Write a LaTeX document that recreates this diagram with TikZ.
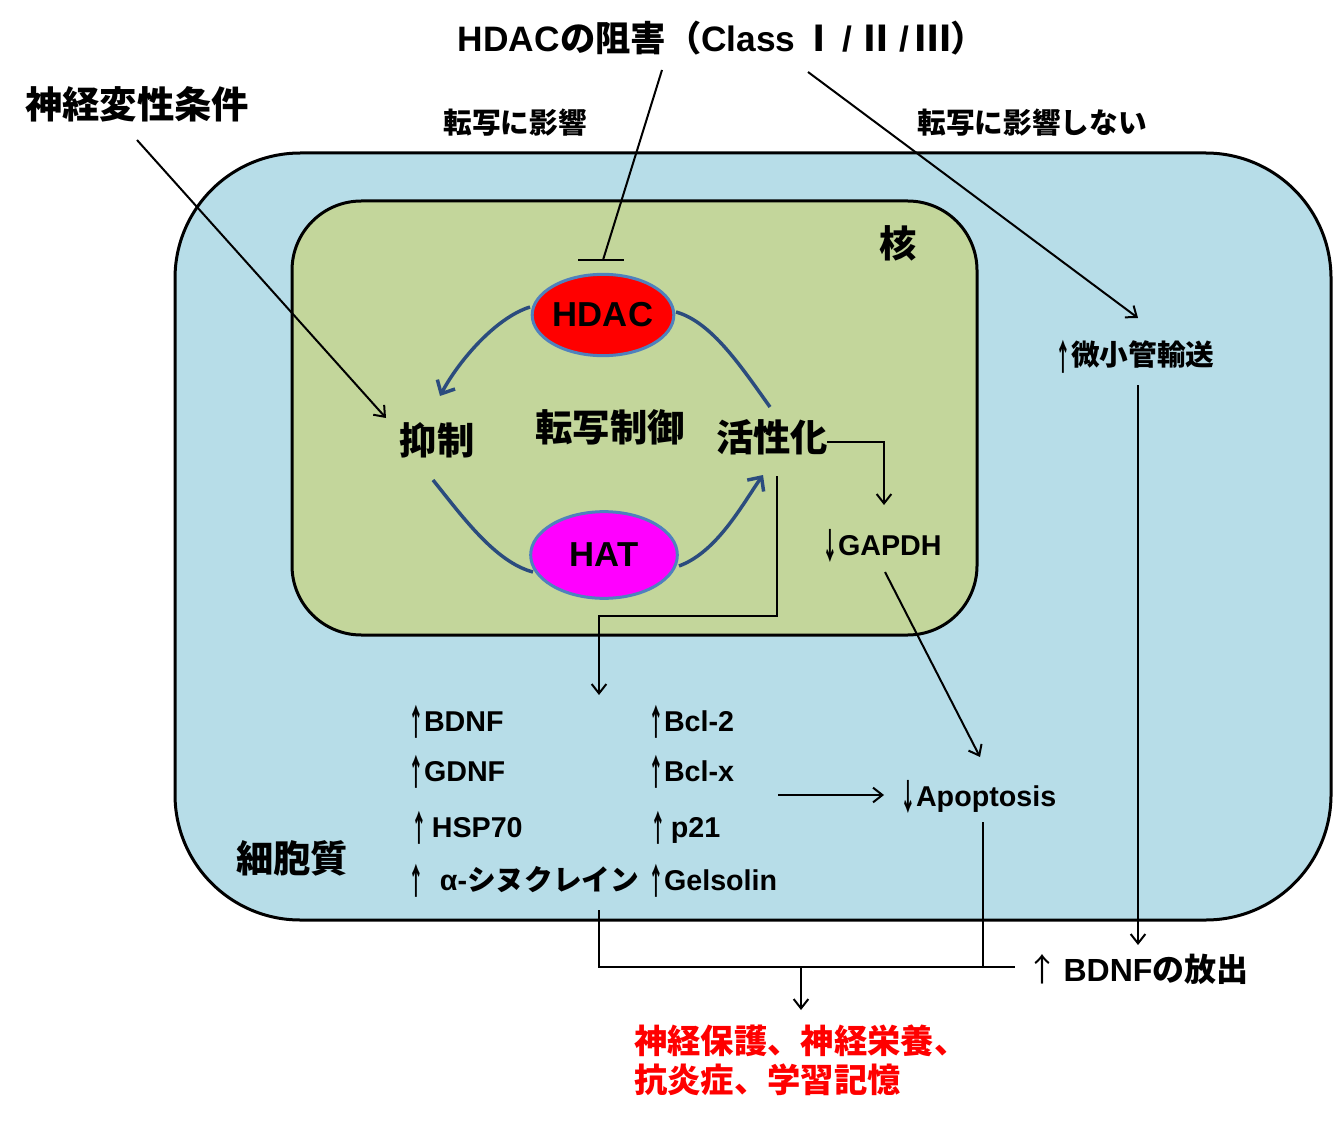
\documentclass[tikz,border=0pt]{standalone}
\usepackage{fontspec}
\usepackage{graphicx}
\setmainfont{Liberation Sans}
\newfontfamily\jp{Noto Sans CJK JP}
\usetikzlibrary{arrows.meta,shapes.geometric}
\definecolor{cellc}{HTML}{B7DDE8}
\definecolor{nucc}{HTML}{C3D69B}
\definecolor{curvec}{HTML}{2B4C7E}
\definecolor{ellb}{HTML}{4F81BD}
\definecolor{hatc}{RGB}{255,0,255}
\definecolor{hdacc}{RGB}{255,0,0}
\definecolor{redtx}{RGB}{255,0,0}
\newcommand\uparr{\raisebox{-3pt}{\scalebox{0.55}[1.25]{\jp\bfseries ↑}}}
\newcommand\dnarr{\raisebox{-3pt}{\scalebox{0.55}[1.25]{\jp\bfseries ↓}}}
\begin{document}
\begin{tikzpicture}[x=0.75pt,y=-0.75pt,
  conn/.style={line width=1.5pt, -{Straight Barb[length=7pt,width=11pt,line width=1.5pt]}},
  plain/.style={line width=1.5pt},
  bcurve/.style={line width=2.6pt, draw=curvec},
  barr/.style={bcurve, -{Straight Barb[length=8pt,width=15pt,line width=2.6pt]}},
  big/.style={font=\jp\bfseries\fontsize{28}{30}\selectfont, inner sep=0pt},
  mid/.style={font=\jp\bfseries\fontsize{21.5}{24}\selectfont, inner sep=0pt},
  lat/.style={font=\bfseries\fontsize{21.5}{24}\selectfont, inner sep=0pt},
  redt/.style={font=\jp\bfseries\fontsize{25}{27}\selectfont, inner sep=0pt, text=redtx},
  ell/.style={ellipse, draw=ellb, line width=2.25pt, inner sep=0pt,
    font=\bfseries\fontsize{26}{28}\selectfont},
]
\useasboundingbox (0,0) rectangle (1333,1126);
\fill[white] (0,0) rectangle (1333,1126);

% cell and nucleus
\draw[line width=2.25pt, fill=cellc, rounded corners=94pt] (175,153) rectangle (1331,920);
\draw[line width=2.25pt, fill=nucc, rounded corners=52pt] (292,201) rectangle (977,635);

% texts
\node[font=\bfseries\fontsize{26.5}{28}\selectfont, inner sep=0pt] (title) at (722,38)
  {HDAC{\jp の阻害（}Class\,{\jp Ⅰ}\,/\,{\jp Ⅱ}\,/\,{\jp Ⅲ）}};
\node[big] (cond) at (137,104) {神経変性条件};
\node[mid] (t1) at (515,123) {転写に影響};
\node[mid] (t2) at (1032,123) {転写に影響しない};
\node[big] (kaku) at (898,243) {核};
\node[ell, fill=hdacc, minimum width=106pt, minimum height=61pt] (hdac) at (603,315) {HDAC};
\node[ell, fill=hatc, minimum width=110pt, minimum height=65pt] (hat) at (604,555) {HAT};
\node[big] (yoku) at (437,440) {抑制};
\node[big] (tensha) at (610,427) {転写制御};
\node[big] (kassei) at (772,437) {活性化};
\node[lat, anchor=base west] (gapdh) at (822,555) {\dnarr GAPDH};
\node[mid, anchor=base west] (micro) at (1055,366) {\uparr 微小管輸送};

\node[lat, anchor=base west] (bdnf) at (408,731) {\uparr BDNF};
\node[lat, anchor=base west] (gdnf) at (408,781) {\uparr GDNF};
\node[lat, anchor=base west] (hsp) at (411,837) {\uparr\,HSP70};
\node[lat, anchor=base west] (syn) at (408,890) {\uparr\ \ α-{\jp シヌクレイン}};
\node[lat, anchor=base west] (bcl2) at (648,731) {\uparr Bcl-2};
\node[lat, anchor=base west] (bclx) at (648,781) {\uparr Bcl-x};
\node[lat, anchor=base west] (p21) at (650,837) {\uparr\,p21};
\node[lat, anchor=base west] (gel) at (648,890) {\uparr Gelsolin};
\node[lat, anchor=base west] (apop) at (900,806) {\dnarr Apoptosis};
\node[lat, anchor=base west, font=\bfseries\fontsize{24}{26}\selectfont] (rel) at (1026,981) {{\jp\mdseries ↑}\,BDNF{\jp の放出}};
\node[big] (saibo) at (292,858) {細胞質};
\node[redt, anchor=west] (out1) at (634,1041) {神経保護、神経栄養、};
\node[redt, anchor=west] (out2) at (634,1080) {抗炎症、学習記憶};

% coordinates
\coordinate (c1s) at (137,140); \coordinate (c1e) at (386,418);
\coordinate (i1) at (662,70); \coordinate (i2) at (603,260);
\coordinate (b1) at (578,260); \coordinate (b2) at (624,260);
\coordinate (m1) at (808,72); \coordinate (m2) at (1138,318);
\coordinate (k1) at (827,442); \coordinate (k2) at (884,442); \coordinate (k3) at (884,505);
\coordinate (a1) at (777,476); \coordinate (a2) at (777,616); \coordinate (a3) at (599,616); \coordinate (a4) at (599,695);
\coordinate (g1) at (885,572); \coordinate (g2) at (980,757);
\coordinate (x1) at (778,795); \coordinate (x2) at (884,795);
\coordinate (u1) at (1138,385); \coordinate (u2) at (1138,945);
\coordinate (p1) at (983,822); \coordinate (p2) at (983,967);
\coordinate (s1) at (599,910); \coordinate (s2) at (599,967); \coordinate (s3) at (1015,967);
\coordinate (o1) at (801,967); \coordinate (o2) at (801,1010);
\coordinate (h1) at (530,307); \coordinate (h2) at (440,396);
\coordinate (h3) at (676,312); \coordinate (h4) at (770,407);
\coordinate (h5) at (433,480); \coordinate (h6) at (533,572);
\coordinate (h7) at (679,566); \coordinate (h8) at (763,475);

% blue curves
\draw[barr] (h1) .. controls (495,318) and (458,362) .. (h2);
\draw[bcurve] (h3) .. controls (712,322) and (742,368) .. (h4);
\draw[bcurve] (h5) .. controls (462,516) and (495,562) .. (h6);
\draw[barr] (h7) .. controls (717,552) and (742,505) .. (h8);

% black connectors
\draw[conn] (c1s) -- (c1e);
\draw[plain] (i1) -- (i2);
\draw[plain] (b1) -- (b2);
\draw[conn] (m1) -- (m2);
\draw[conn] (k1) -- (k2) -- (k3);
\draw[conn] (a1) -- (a2) -- (a3) -- (a4);
\draw[conn] (g1) -- (g2);
\draw[conn] (x1) -- (x2);
\draw[conn] (u1) -- (u2);
\draw[plain] (p1) -- (p2);
\draw[plain] (s1) -- (s2) -- (s3);
\draw[conn] (o1) -- (o2);
\end{tikzpicture}
\end{document}
